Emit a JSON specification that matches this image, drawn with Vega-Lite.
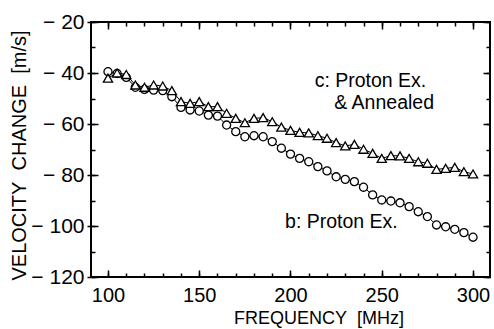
{
  "$schema": "https://vega.github.io/schema/vega-lite/v6.json",
  "width": 399,
  "height": 255,
  "autosize": "none",
  "padding": {"left": 91, "top": 22, "right": 4, "bottom": 52},
  "config": {
    "view": {"stroke": "black", "strokeWidth": 2},
    "font": "Liberation Sans",
    "axis": {"grid": false, "domain": false, "tickColor": "black", "tickWidth": 1.5, "labelColor": "black", "titleColor": "black", "titleFontWeight": "normal"}
  },
  "datasets": {
    "b": [
      {"f": 100, "v": -39.5}, {"f": 105, "v": -40.2}, {"f": 110, "v": -41.7}, {"f": 115, "v": -45.6},
      {"f": 120, "v": -46.4}, {"f": 125, "v": -46.7}, {"f": 130, "v": -46.9}, {"f": 135, "v": -49.3},
      {"f": 140, "v": -53.5}, {"f": 145, "v": -54.5}, {"f": 150, "v": -54.9}, {"f": 155, "v": -56.5},
      {"f": 160, "v": -56.9}, {"f": 165, "v": -60.4}, {"f": 170, "v": -63.0}, {"f": 175, "v": -65.0},
      {"f": 180, "v": -64.6}, {"f": 185, "v": -65.0}, {"f": 190, "v": -66.9}, {"f": 195, "v": -69.5},
      {"f": 200, "v": -71.8}, {"f": 205, "v": -73.5}, {"f": 210, "v": -74.8}, {"f": 215, "v": -76.7},
      {"f": 220, "v": -78.4}, {"f": 225, "v": -80.7}, {"f": 230, "v": -81.7}, {"f": 235, "v": -82.6},
      {"f": 240, "v": -84.8}, {"f": 245, "v": -87.8}, {"f": 250, "v": -89.8}, {"f": 255, "v": -90.2},
      {"f": 260, "v": -90.9}, {"f": 265, "v": -92.4}, {"f": 270, "v": -94.4}, {"f": 275, "v": -96.3},
      {"f": 280, "v": -99.6}, {"f": 285, "v": -100.3}, {"f": 290, "v": -101.3}, {"f": 295, "v": -102.6},
      {"f": 300, "v": -104.4}
    ],
    "c": [
      {"f": 100, "v": -42.0}, {"f": 105, "v": -40.0}, {"f": 110, "v": -40.6}, {"f": 115, "v": -44.7},
      {"f": 120, "v": -45.6}, {"f": 125, "v": -44.7}, {"f": 130, "v": -45.1}, {"f": 135, "v": -46.9},
      {"f": 140, "v": -51.2}, {"f": 145, "v": -51.9}, {"f": 150, "v": -51.2}, {"f": 155, "v": -53.2},
      {"f": 160, "v": -53.2}, {"f": 165, "v": -55.8}, {"f": 170, "v": -57.8}, {"f": 175, "v": -59.5},
      {"f": 180, "v": -57.8}, {"f": 185, "v": -57.5}, {"f": 190, "v": -59.1}, {"f": 195, "v": -61.2},
      {"f": 200, "v": -62.5}, {"f": 205, "v": -63.3}, {"f": 210, "v": -63.5}, {"f": 215, "v": -64.6},
      {"f": 220, "v": -65.6}, {"f": 225, "v": -67.3}, {"f": 230, "v": -68.6}, {"f": 235, "v": -68.0},
      {"f": 240, "v": -69.9}, {"f": 245, "v": -71.5}, {"f": 250, "v": -73.5}, {"f": 255, "v": -72.4},
      {"f": 260, "v": -72.5}, {"f": 265, "v": -73.5}, {"f": 270, "v": -74.8}, {"f": 275, "v": -75.4},
      {"f": 280, "v": -77.8}, {"f": 285, "v": -77.4}, {"f": 290, "v": -77.0}, {"f": 295, "v": -78.7},
      {"f": 300, "v": -79.6}
    ],
    "labels": [
      {"f": 243.8, "v": -43.1, "t": "c: Proton Ex."},
      {"f": 251.3, "v": -51.8, "t": "& Annealed"},
      {"f": 227.9, "v": -98.3, "t": "b: Proton Ex."}
    ]
  },
  "layer": [
    {
      "data": {"name": "b"},
      "mark": {"type": "line", "color": "black", "strokeWidth": 1},
      "encoding": {
        "x": {"field": "f", "type": "quantitative", "scale": {"domain": [90.7, 309.3], "nice": false, "zero": false},
          "axis": {"orient": "bottom", "title": "FREQUENCY\u00a0 [MHz]", "values": [100,110,120,130,140,150,160,170,180,190,200,210,220,230,240,250,260,270,280,290,300],
            "labelExpr": "datum.value % 50 === 0 ? datum.label : ''",
            "offset": -4, "tickSize": 4, "labelPadding": 8, "labelFontSize": 20,
            "titleFontSize": 18, "titleX": 227.5, "titleY": 45, "titleBaseline": "middle"}},
        "y": {"field": "v", "type": "quantitative", "scale": {"domain": [-120, -20], "nice": false, "zero": false},
          "axis": {"orient": "left", "title": "VELOCITY\u00a0 CHANGE\u00a0 [m/s]", "values": [-120,-110,-100,-90,-80,-70,-60,-50,-40,-30,-20],
            "labelExpr": "datum.value % 20 === 0 ? '\u2212\u00a0' + abs(datum.value) : ''",
            "offset": -4, "tickSize": 4, "labelPadding": 7, "labelFontSize": 21,
            "titleFontSize": 20, "titleX": -76, "titleY": 133, "titleBaseline": "middle", "titleAngle": -90}}
      }
    },
    {
      "data": {"name": "b"},
      "mark": {"type": "point", "shape": "circle", "filled": true, "fill": "white", "stroke": "black", "strokeWidth": 1.3, "size": 65, "opacity": 1},
      "encoding": {
        "x": {"field": "f", "type": "quantitative", "scale": {"domain": [90.7, 309.3], "nice": false, "zero": false},
          "axis": {"orient": "top", "title": null, "labels": false, "values": [100,110,120,130,140,150,160,170,180,190,200,210,220,230,240,250,260,270,280,290,300],
            "offset": -4, "tickSize": 4}},
        "y": {"field": "v", "type": "quantitative", "scale": {"domain": [-120, -20], "nice": false, "zero": false},
          "axis": {"orient": "right", "title": null, "labels": false, "values": [-120,-110,-100,-90,-80,-70,-60,-50,-40,-30,-20],
            "offset": -4, "tickSize": 4}}
      }
    },
    {
      "data": {"name": "c"},
      "mark": {"type": "line", "color": "black", "strokeWidth": 1},
      "encoding": {
        "x": {"field": "f", "type": "quantitative", "scale": {"domain": [90.7, 309.3], "nice": false, "zero": false},
          "axis": {"orient": "bottom", "title": null, "labels": false, "values": [100,150,200,250,300],
            "offset": -7, "tickSize": 7}},
        "y": {"field": "v", "type": "quantitative", "scale": {"domain": [-120, -20], "nice": false, "zero": false},
          "axis": {"orient": "left", "title": null, "labels": false, "values": [-120,-100,-80,-60,-40,-20],
            "offset": -7, "tickSize": 11}}
      }
    },
    {
      "data": {"name": "c"},
      "mark": {"type": "point", "shape": "triangle-up", "filled": true, "fill": "white", "stroke": "black", "strokeWidth": 1.3, "size": 85, "opacity": 1},
      "encoding": {
        "x": {"field": "f", "type": "quantitative", "scale": {"domain": [90.7, 309.3], "nice": false, "zero": false},
          "axis": {"orient": "top", "title": null, "labels": false, "values": [100,150,200,250,300],
            "offset": -7, "tickSize": 7}},
        "y": {"field": "v", "type": "quantitative", "scale": {"domain": [-120, -20], "nice": false, "zero": false},
          "axis": {"orient": "right", "title": null, "labels": false, "values": [-120,-100,-80,-60,-40,-20],
            "offset": -7, "tickSize": 7}}
      }
    },
    {
      "data": {"name": "labels"},
      "mark": {"type": "text", "fontSize": 19.5, "align": "center", "baseline": "middle", "color": "black", "font": "Liberation Sans"},
      "encoding": {
        "x": {"field": "f", "type": "quantitative", "axis": null},
        "y": {"field": "v", "type": "quantitative", "axis": null},
        "text": {"field": "t"}
      }
    }
  ],
  "resolve": {"axis": {"x": "independent", "y": "independent"}}
}
